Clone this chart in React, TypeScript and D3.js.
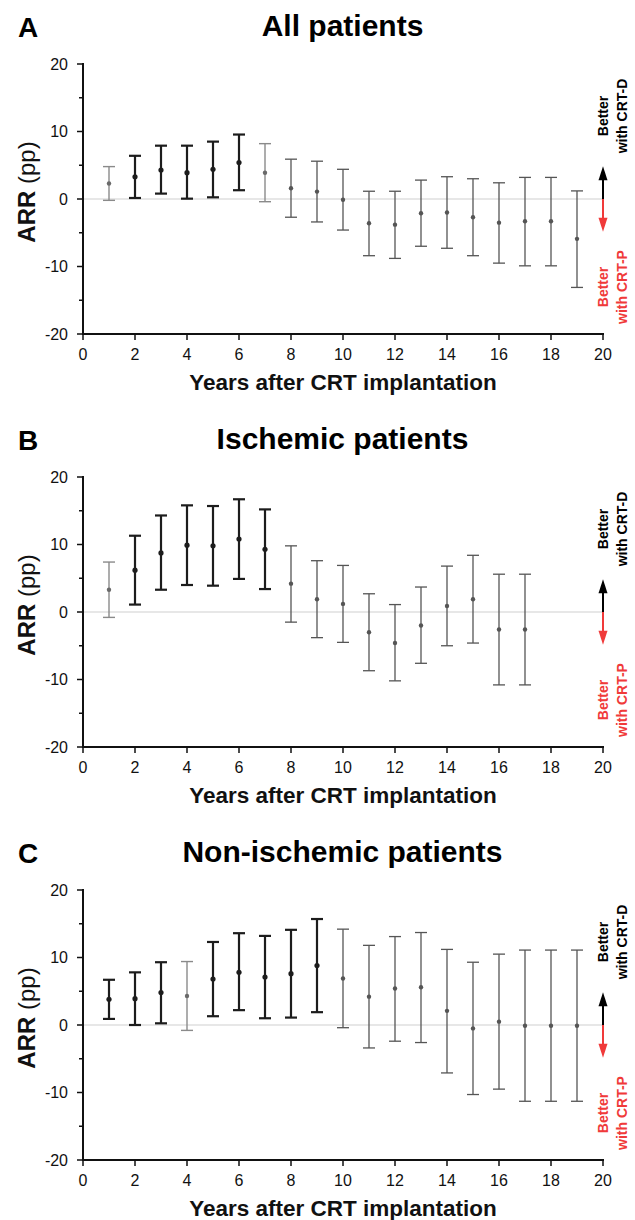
import React from "react";
import * as d3 from "d3";

// ---- Data ----
const panelLetters = ["A", "B", "C"];
const panelTitles = ["All patients", "Ischemic patients", "Non-ischemic patients"];

const xTicks = [0, 2, 4, 6, 8, 10, 12, 14, 16, 18, 20];
const yMajorTicks = [-20, -10, 0, 10, 20];
const yMinorTicks = [-15, -5, 5, 15];

// Panel A: all patients
const yearsA = [1, 2, 3, 4, 5, 6, 7, 8, 9, 10, 11, 12, 13, 14, 15, 16, 17, 18, 19];
const arrA = [2.3, 3.3, 4.3, 3.9, 4.4, 5.4, 3.9, 1.6, 1.1, -0.1, -3.6, -3.8, -2.1, -2.0, -2.7, -3.5, -3.3, -3.3, -5.9];
const lowA = [-0.2, 0.15, 0.8, 0.05, 0.25, 1.3, -0.4, -2.7, -3.4, -4.6, -8.4, -8.8, -7.0, -7.3, -8.4, -9.5, -9.9, -9.9, -13.1];
const highA = [4.8, 6.4, 7.9, 7.9, 8.5, 9.55, 8.2, 5.9, 5.6, 4.4, 1.15, 1.15, 2.8, 3.3, 3.0, 2.4, 3.2, 3.2, 1.2];
// s = significant, b = borderline, n = not significant
const sigA = ["b", "s", "s", "s", "s", "s", "b", "n", "n", "n", "n", "n", "n", "n", "n", "n", "n", "n", "n"];

// Panel B: ischemic patients
const yearsB = [1, 2, 3, 4, 5, 6, 7, 8, 9, 10, 11, 12, 13, 14, 15, 16, 17];
const arrB = [3.3, 6.2, 8.75, 9.9, 9.8, 10.8, 9.3, 4.2, 1.9, 1.2, -3.0, -4.6, -2.0, 0.9, 1.9, -2.6, -2.6];
const lowB = [-0.8, 1.1, 3.3, 4.0, 3.9, 4.9, 3.4, -1.5, -3.8, -4.5, -8.7, -10.2, -7.6, -5.0, -4.6, -10.8, -10.8];
const highB = [7.4, 11.3, 14.3, 15.8, 15.7, 16.7, 15.2, 9.8, 7.6, 6.9, 2.7, 1.1, 3.7, 6.8, 8.4, 5.6, 5.6];
const sigB = ["b", "s", "s", "s", "s", "s", "s", "n", "n", "n", "n", "n", "n", "n", "n", "n", "n"];

// Panel C: non-ischemic patients
const yearsC = [1, 2, 3, 4, 5, 6, 7, 8, 9, 10, 11, 12, 13, 14, 15, 16, 17, 18, 19];
const arrC = [3.8, 3.9, 4.8, 4.3, 6.8, 7.8, 7.1, 7.6, 8.8, 6.9, 4.2, 5.4, 5.6, 2.1, -0.5, 0.5, -0.1, -0.1, -0.1];
const lowC = [0.9, 0.0, 0.25, -0.8, 1.3, 2.2, 1.0, 1.1, 1.9, -0.4, -3.4, -2.4, -2.6, -7.1, -10.3, -9.5, -11.3, -11.3, -11.3];
const highC = [6.7, 7.8, 9.3, 9.4, 12.3, 13.6, 13.2, 14.1, 15.7, 14.2, 11.8, 13.1, 13.7, 11.2, 9.3, 10.5, 11.1, 11.1, 11.1];
const sigC = ["s", "s", "s", "b", "s", "s", "s", "s", "s", "n", "n", "n", "n", "n", "n", "n", "n", "n", "n"];

const arrowExtent = 4.85;

const panelData = [
  { years: yearsA, arr: arrA, low: lowA, high: highA, sig: sigA },
  { years: yearsB, arr: arrB, low: lowB, high: highB, sig: sigB },
  { years: yearsC, arr: arrC, low: lowC, high: highC, sig: sigC },
];

// ---- Layout ----
const W = 635;
const H = 1220;
const FONT = "'Liberation Sans', Arial, Helvetica, sans-serif";
const X0 = 83;
const X1 = 603;
const PANEL_TOP0 = 64;
const PANEL_STEP = 413;
const PLOT_H = 270;
const RED = "#f03a3a";

const styleFor = (s: string) => {
  if (s === "s") return { stroke: "#1c1c1c", width: 2.2, dot: "#1c1c1c", r: 2.6 };
  if (s === "b") return { stroke: "#8a8a8a", width: 1.4, dot: "#6a6a6a", r: 2.2 };
  return { stroke: "#555555", width: 1.3, dot: "#555555", r: 2.2 };
};

function Panel({ idx }: { idx: number }) {
  const top = PANEL_TOP0 + idx * PANEL_STEP;
  const bottom = top + PLOT_H;
  const x = d3.scaleLinear().domain([0, 20]).range([X0, X1]);
  const y = d3.scaleLinear().domain([-20, 20]).range([bottom, top]);
  const d = panelData[idx];
  const cap = 6;

  return (
    <g>
      {/* panel letter & title */}
      <text x={18} y={top - 27} fontFamily={FONT} fontWeight="bold" fontSize={28} fill="#000">
        {panelLetters[idx]}
      </text>
      <text x={342.5} y={top - 28} fontFamily={FONT} fontWeight="bold" fontSize={30} fill="#000" textAnchor="middle">
        {panelTitles[idx]}
      </text>

      {/* zero line */}
      <line x1={x(0)} x2={x(20)} y1={y(0)} y2={y(0)} stroke="#cfcfcf" strokeWidth={1} />

      {/* y axis */}
      <line x1={X0} x2={X0} y1={y(20) - 1} y2={bottom + 1} stroke="#111" strokeWidth={2} />
      {yMajorTicks.map((t) => (
        <g key={"ym" + t}>
          <line x1={X0 - 6} x2={X0} y1={y(t)} y2={y(t)} stroke="#111" strokeWidth={1.5} />
          <text
            x={X0 - 15}
            y={y(t)}
            dy="0.36em"
            textAnchor="end"
            fontFamily={FONT}
            fontSize={16}
            fill="#111"
          >
            {t}
          </text>
        </g>
      ))}
      {yMinorTicks.map((t) => (
        <line key={"yn" + t} x1={X0 - 4} x2={X0} y1={y(t)} y2={y(t)} stroke="#111" strokeWidth={1.5} />
      ))}

      {/* x axis */}
      <line x1={X0 - 1} x2={X1 + 1} y1={bottom} y2={bottom} stroke="#111" strokeWidth={2} />
      {xTicks.map((t) => (
        <g key={"xt" + t}>
          <line x1={x(t)} x2={x(t)} y1={bottom} y2={bottom + 6} stroke="#111" strokeWidth={1.5} />
          <text x={x(t)} y={bottom + 26} textAnchor="middle" fontFamily={FONT} fontSize={16} fill="#111">
            {t}
          </text>
        </g>
      ))}

      {/* axis titles */}
      <text
        x={343}
        y={bottom + 56}
        textAnchor="middle"
        fontFamily={FONT}
        fontWeight="bold"
        fontSize={22.5}
        fill="#111"
      >
        Years after CRT implantation
      </text>
      <text
        transform={`translate(35, ${top + 128}) rotate(-90)`}
        textAnchor="middle"
        fontFamily={FONT}
        fontSize={24}
        fill="#111"
      >
        <tspan fontWeight="bold">ARR</tspan>
        <tspan> (pp)</tspan>
      </text>

      {/* error bars */}
      {d.years.map((yr, i) => {
        const st = styleFor(d.sig[i]);
        const cx = x(yr);
        return (
          <g key={"eb" + i}>
            <line x1={cx} x2={cx} y1={y(d.low[i])} y2={y(d.high[i])} stroke={st.stroke} strokeWidth={st.width} />
            <line x1={cx - cap} x2={cx + cap} y1={y(d.high[i])} y2={y(d.high[i])} stroke={st.stroke} strokeWidth={st.width} />
            <line x1={cx - cap} x2={cx + cap} y1={y(d.low[i])} y2={y(d.low[i])} stroke={st.stroke} strokeWidth={st.width} />
            <circle cx={cx} cy={y(d.arr[i])} r={st.r} fill={st.dot} />
          </g>
        );
      })}

      {/* direction arrows */}
      <line x1={x(20)} x2={x(20)} y1={y(0)} y2={y(arrowExtent) + 12} stroke="#000" strokeWidth={2} />
      <path
        d={`M${x(20)},${y(arrowExtent)} L${x(20) - 4.5},${y(arrowExtent) + 14} L${x(20) + 4.5},${y(arrowExtent) + 14} Z`}
        fill="#000"
      />
      <line x1={x(20)} x2={x(20)} y1={y(0)} y2={y(-arrowExtent) - 12} stroke={RED} strokeWidth={2} />
      <path
        d={`M${x(20)},${y(-arrowExtent)} L${x(20) - 4.5},${y(-arrowExtent) - 14} L${x(20) + 4.5},${y(-arrowExtent) - 14} Z`}
        fill={RED}
      />

      {/* direction labels */}
      <text transform={`translate(608, ${top + 52}) rotate(-90)`} textAnchor="middle" fontFamily={FONT} fontWeight="bold" fontSize={14} fill="#000">
        Better
      </text>
      <text transform={`translate(627, ${top + 52}) rotate(-90)`} textAnchor="middle" fontFamily={FONT} fontWeight="bold" fontSize={14} fill="#000">
        with CRT-D
      </text>
      <text transform={`translate(608, ${top + 223}) rotate(-90)`} textAnchor="middle" fontFamily={FONT} fontWeight="bold" fontSize={14} fill={RED}>
        Better
      </text>
      <text transform={`translate(627, ${top + 223}) rotate(-90)`} textAnchor="middle" fontFamily={FONT} fontWeight="bold" fontSize={14} fill={RED}>
        with CRT-P
      </text>
    </g>
  );
}

export default function App() {
  return (
    <svg
      width={W}
      height={H}
      viewBox={`0 0 ${W} ${H}`}
      style={{ position: "absolute", left: 0, top: 0, background: "#fff", display: "block" }}
    >
      <rect x={0} y={0} width={W} height={H} fill="#fff" />
      {[0, 1, 2].map((i) => (
        <Panel key={i} idx={i} />
      ))}
    </svg>
  );
}
